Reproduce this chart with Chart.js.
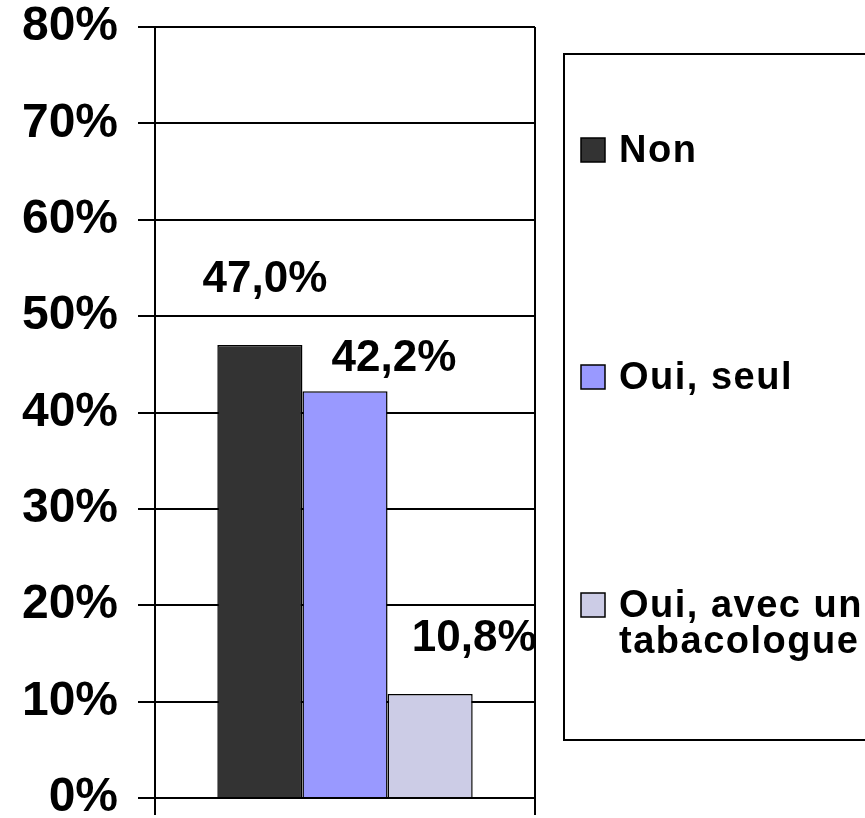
<!DOCTYPE html>
<html>
<head>
<meta charset="utf-8">
<script src="https://cdn.jsdelivr.net/npm/chart.js@4.4.1/dist/chart.umd.min.js"></script>
<style>
  html, body { margin: 0; padding: 0; background: #fff; }
  #wrap { width: 865px; height: 818px; position: relative; }
</style>
</head>
<body>
<div id="wrap"><canvas id="c" width="865" height="818"></canvas></div>
<script>
// ---- data ----
const categories = [''];
const seriesNames = ['Non', 'Oui, seul', 'Oui, avec un tabacologue'];
const seriesValues = [[47.0], [42.2], [10.8]];
const valueLabels = ['47,0%', '42,2%', '10,8%'];
const yTicks = [0, 10, 20, 30, 40, 50, 60, 70, 80];

// ---- styles ----
const colors = ['#333333', '#9999FF', '#CCCCE6'];
const legendLines = [['Non'], ['Oui, seul'], ['Oui, avec un', 'tabacologue']];
const labelOffsets = [[5, 65], [49, 32], [44, 55]];
const FONT = '"Liberation Sans", Arial, sans-serif';

const labelPlugin = {
  id: 'valueLabels',
  afterDatasetsDraw(chart) {
    const ctx = chart.ctx;
    ctx.save();
    ctx.font = 'bold 44px ' + FONT;
    ctx.fillStyle = '#000';
    ctx.textAlign = 'center';
    ctx.textBaseline = 'middle';
    chart.data.datasets.forEach((ds, i) => {
      const bar = chart.getDatasetMeta(i).data[0];
      ctx.fillText(valueLabels[i], bar.x + labelOffsets[i][0], bar.y - labelOffsets[i][1]);
    });
    ctx.restore();
  }
};

const legendPlugin = {
  id: 'boxLegend',
  afterDraw(chart) {
    const ctx = chart.ctx;
    ctx.save();
    ctx.strokeStyle = '#000';
    ctx.lineWidth = 2;
    ctx.strokeRect(564, 54, 320, 686);
    const rows = [150, 377, 605];
    ctx.font = 'bold 38px ' + FONT;
    if ('letterSpacing' in ctx) ctx.letterSpacing = '1.5px';
    ctx.textBaseline = 'middle';
    ctx.textAlign = 'left';
    chart.data.datasets.forEach((ds, i) => {
      const y = rows[i];
      ctx.fillStyle = ds.backgroundColor;
      ctx.fillRect(581, y - 12, 24, 24);
      ctx.lineWidth = 1.5;
      ctx.strokeStyle = '#000';
      ctx.strokeRect(581, y - 12, 24, 24);
      ctx.fillStyle = '#000';
      legendLines[i].forEach((t, k) => ctx.fillText(t, 619, y + 2 + k * 36));
    });
    ctx.restore();
  }
};

new Chart(document.getElementById('c'), {
  type: 'bar',
  data: {
    labels: categories,
    datasets: seriesNames.map((n, i) => ({
      label: n,
      data: seriesValues[i],
      backgroundColor: colors[i],
      borderColor: '#000',
      borderWidth: 1.5,
      barPercentage: 1.0,
      categoryPercentage: 0.672
    }))
  },
  options: {
    responsive: false,
    animation: false,
    events: [],
    layout: { padding: { left: 0, right: 330, top: 27, bottom: 0 } },
    plugins: { legend: { display: false }, tooltip: { enabled: false } },
    scales: {
      x: {
        offset: true,
        grid: { offset: true, display: true, color: '#000', lineWidth: 2, tickLength: 17, drawOnChartArea: true },
        border: { display: true, color: '#000', width: 2 },
        ticks: { display: false },
        afterFit(s) { s.height = 20; s.paddingLeft = 0; s.paddingRight = 0; }
      },
      y: {
        min: 0, max: 80,
        afterBuildTicks(s) { s.ticks = yTicks.map(v => ({ value: v })); },
        grid: { color: '#000', lineWidth: 2, tickLength: 17 },
        border: { display: true, color: '#000', width: 2 },
        ticks: {
          padding: 20,
          color: '#000',
          font: { family: FONT, size: 48, weight: 'bold' },
          callback: v => v + '%'
        },
        afterFit(s) { s.width = 155; s.paddingTop = 0; s.paddingBottom = 0; }
      }
    }
  },
  plugins: [labelPlugin, legendPlugin]
});
</script>
</body>
</html>
